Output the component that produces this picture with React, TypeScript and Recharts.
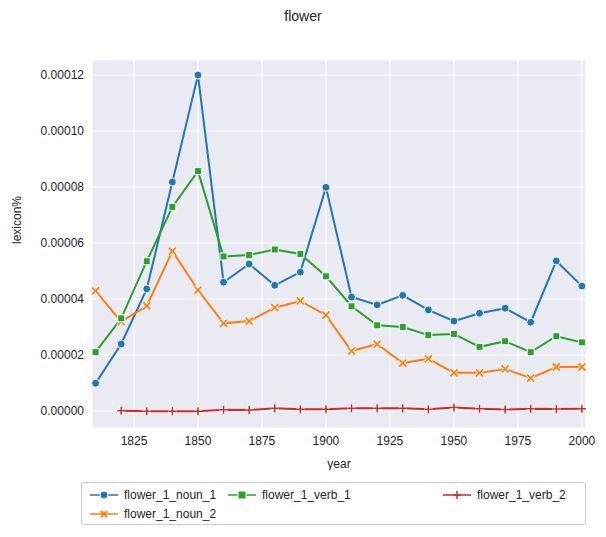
import React from 'react';
import { LineChart, Line, XAxis, YAxis, CartesianGrid } from 'recharts';

const years = [1810, 1820, 1830, 1840, 1850, 1860, 1870, 1880, 1890, 1900, 1910, 1920, 1930, 1940, 1950, 1960, 1970, 1980, 1990, 2000];
// values in units of 1e-5
const noun1 = [0.99, 2.39, 4.36, 8.18, 12.0, 4.6, 5.25, 4.49, 4.96, 7.99, 4.07, 3.79, 4.13, 3.61, 3.21, 3.49, 3.67, 3.17, 5.36, 4.46];
const verb1 = [2.1, 3.31, 5.35, 7.29, 8.57, 5.52, 5.57, 5.77, 5.61, 4.81, 3.74, 3.06, 3.0, 2.71, 2.75, 2.29, 2.49, 2.1, 2.67, 2.45];
const noun2 = [4.29, 3.19, 3.75, 5.71, 4.32, 3.13, 3.21, 3.69, 3.93, 3.42, 2.14, 2.39, 1.71, 1.86, 1.36, 1.36, 1.5, 1.17, 1.57, 1.57];
const verb2 = [null, 0.01, -0.01, -0.01, -0.01, 0.04, 0.03, 0.1, 0.06, 0.06, 0.1, 0.1, 0.1, 0.06, 0.12, 0.08, 0.05, 0.08, 0.07, 0.08];
const xTicks = [1825, 1850, 1875, 1900, 1925, 1950, 1975, 2000];
const yTicks = [0, 0.00002, 0.00004, 0.00006, 0.00008, 0.0001, 0.00012];

const data = years.map((year, i) => ({
    year,
    noun1: noun1[i] * 1e-5,
    noun2: noun2[i] * 1e-5,
    verb1: verb1[i] * 1e-5,
    verb2: verb2[i] == null ? null : (verb2[i] as number) * 1e-5,
}));

const BLUE = '#1f77b4';
const ORANGE = '#ff7f0e';
const GREEN = '#2ca02c';
const RED = '#d62728';
const FONT = '"Liberation Sans", Arial, sans-serif';

const CircleDot = (p: any) => (p.cy == null ? null : <circle key={p.index} cx={p.cx} cy={p.cy} r={4} fill={BLUE} stroke="#fff" strokeWidth={1} />);
const SquareDot = (p: any) => (p.cy == null ? null : <rect key={p.index} x={p.cx - 3.5} y={p.cy - 3.5} width={7} height={7} fill={GREEN} stroke="#fff" strokeWidth={1} />);
const XDot = (p: any) => p.cy == null ? null : (
    <g key={p.index}>
        <path d={`M${p.cx - 3.5},${p.cy - 3.5}L${p.cx + 3.5},${p.cy + 3.5}M${p.cx - 3.5},${p.cy + 3.5}L${p.cx + 3.5},${p.cy - 3.5}`} stroke="#fff" strokeWidth={3.5} />
        <path d={`M${p.cx - 3.5},${p.cy - 3.5}L${p.cx + 3.5},${p.cy + 3.5}M${p.cx - 3.5},${p.cy + 3.5}L${p.cx + 3.5},${p.cy - 3.5}`} stroke={ORANGE} strokeWidth={1.8} />
    </g>
);
const PlusDot = (p: any) => p.cy == null ? null : (
    <g key={p.index}>
        <path d={`M${p.cx - 4},${p.cy}L${p.cx + 4},${p.cy}M${p.cx},${p.cy - 4}L${p.cx},${p.cy + 4}`} stroke="#fff" strokeWidth={3.5} />
        <path d={`M${p.cx - 4},${p.cy}L${p.cx + 4},${p.cy}M${p.cx},${p.cy - 4}L${p.cx},${p.cy + 4}`} stroke={RED} strokeWidth={1.5} />
    </g>
);

const legendItems = [
    { label: 'flower_1_noun_1', color: BLUE, icon: <circle cx={14} cy={6} r={4} fill={BLUE} stroke="#fff" /> },
    { label: 'flower_1_verb_1', color: GREEN, icon: <rect x={10} y={2} width={8} height={8} fill={GREEN} stroke="#fff" /> },
    { label: 'flower_1_verb_2', color: RED, icon: <path d="M10,6L18,6M14,2L14,10" stroke={RED} strokeWidth={1.5} /> },
    { label: 'flower_1_noun_2', color: ORANGE, icon: <path d="M11,3L17,9M11,9L17,3" stroke={ORANGE} strokeWidth={1.8} /> },
];

const LegendEntry = ({ item, left, top }: any) => (
    <div style={{ position: 'absolute', left, top, display: 'flex', alignItems: 'center', fontSize: 12, color: '#262626' }}>
        <svg width={28} height={12}>
            <line x1={0} y1={6} x2={28} y2={6} stroke={item.color} strokeWidth={1.5} />
            {item.icon}
        </svg>
        <span style={{ marginLeft: 6 }}>{item.label}</span>
    </div>
);

export default function App() {
    const tick = { fill: '#262626', fontSize: 12, fontFamily: FONT };
    return (
        <div style={{ position: 'absolute', left: 0, top: 0, width: 606, height: 537, background: '#fff', fontFamily: FONT }}>
            <div style={{ position: 'absolute', top: 8, width: 606, textAlign: 'center', fontSize: 14, color: '#262626' }}>flower</div>
            <LineChart width={606} height={470} data={data} margin={{ top: 60, right: 20, left: 0, bottom: 0 }}>
                <CartesianGrid fill="#eaeaf2" stroke="#fff" strokeWidth={1} />
                <XAxis
                    dataKey="year"
                    type="number"
                    domain={[1808.6, 2001.6]}
                    allowDataOverflow
                    ticks={xTicks}
                    axisLine={false}
                    tickLine={false}
                    tick={tick}
                    height={42}
                    label={{ value: 'year', position: 'insideBottom', offset: 2, fill: '#262626', fontSize: 12, fontFamily: FONT }}
                />
                <YAxis
                    type="number"
                    domain={[-0.0000061, 0.0001254]}
                    allowDataOverflow
                    ticks={yTicks}
                    tickFormatter={(v: number) => v.toFixed(5)}
                    axisLine={false}
                    tickLine={false}
                    tick={tick}
                    width={92}
                    label={{ value: 'lexicon%', angle: -90, position: 'insideLeft', offset: 17, fill: '#262626', fontSize: 12, fontFamily: FONT }}
                />
                <Line dataKey="noun1" stroke={BLUE} strokeWidth={2} dot={CircleDot} isAnimationActive={false} />
                <Line dataKey="noun2" stroke={ORANGE} strokeWidth={2} dot={XDot} isAnimationActive={false} />
                <Line dataKey="verb1" stroke={GREEN} strokeWidth={2} dot={SquareDot} isAnimationActive={false} />
                <Line dataKey="verb2" stroke={RED} strokeWidth={2} dot={PlusDot} isAnimationActive={false} />
            </LineChart>
            <div style={{ position: 'absolute', left: 81, top: 482, width: 505, height: 43, border: '1px solid #ccc', borderRadius: 3, boxSizing: 'border-box' }}>
                <LegendEntry item={legendItems[0]} left={8} top={5} />
                <LegendEntry item={legendItems[1]} left={146} top={5} />
                <LegendEntry item={legendItems[2]} left={361} top={5} />
                <LegendEntry item={legendItems[3]} left={8} top={24} />
            </div>
        </div>
    );
}
